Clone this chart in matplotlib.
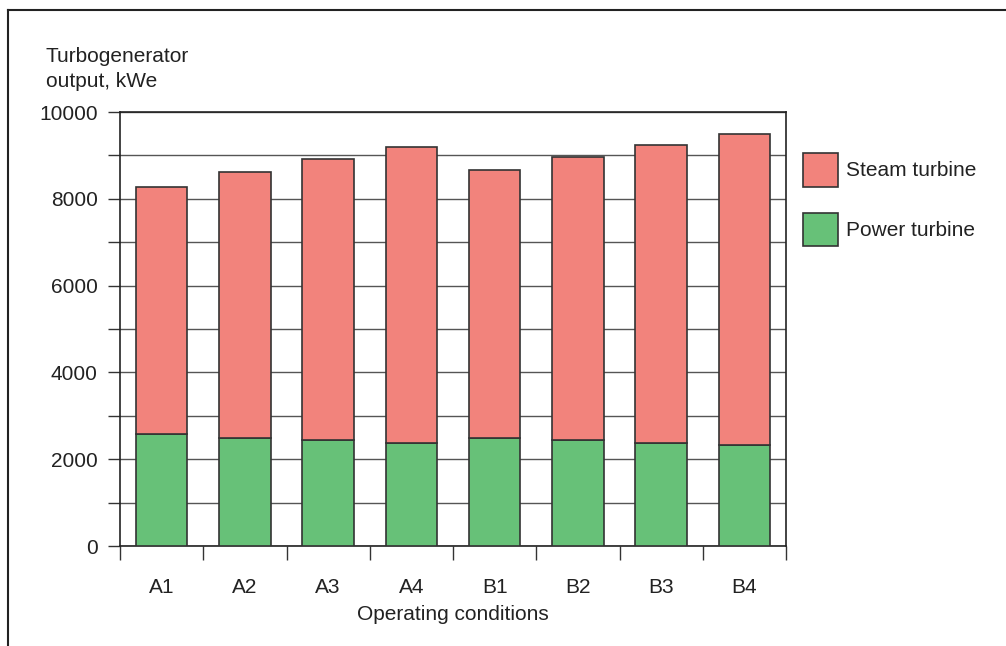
import matplotlib.pyplot as plt
from matplotlib.lines import Line2D
import numpy as np

plt.rcParams['font.family'] = ['Liberation Sans', 'DejaVu Sans']

conditions = ["A1", "A2", "A3", "A4", "B1", "B2", "B3", "B4"]
power_turbine = [2570, 2500, 2435, 2380, 2500, 2440, 2380, 2320]
total_output = [8265, 8610, 8925, 9200, 8665, 8955, 9245, 9495]
steam_turbine = [t - p for t, p in zip(total_output, power_turbine)]

red = "#F2837C"
green = "#67C178"
edge = "#333333"

fig = plt.figure(figsize=(10.06, 6.46), dpi=100)
ax = fig.add_axes([120 / 1006, 1 - 546 / 646, 666 / 1006, 434 / 646])

x = np.arange(len(conditions))
bw = 0.62
ax.bar(x, power_turbine, bw, color=green, edgecolor=edge, linewidth=1.2,
       label="Power turbine", zorder=3)
ax.bar(x, steam_turbine, bw, bottom=power_turbine, color=red, edgecolor=edge,
       linewidth=1.2, label="Steam turbine", zorder=3)

ax.set_xlim(-0.5, len(conditions) - 0.5)
ax.set_ylim(0, 10000)

ax.set_yticks(np.arange(0, 10001, 2000))
ax.set_yticks(np.arange(0, 10001, 1000), minor=True)
ax.yaxis.grid(True, which="both", color="#555555", linewidth=1.0, zorder=0)
ax.set_axisbelow(True)
ax.tick_params(axis="y", which="both", direction="out", length=9, width=1.0,
               color="#333333", labelsize=15, pad=7, labelcolor="#222222")

ax.set_xticks(np.arange(-0.5, len(conditions), 1.0))
ax.set_xticklabels([])
ax.set_xticks(x, minor=True)
ax.set_xticklabels(conditions, minor=True)
ax.tick_params(axis="x", which="major", direction="out", length=10, width=1.0,
               color="#333333")
ax.tick_params(axis="x", which="minor", length=0, labelsize=15, pad=23,
               labelcolor="#222222")

for s in ax.spines.values():
    s.set_color("#222222")
    s.set_linewidth(1.2)

ax.set_xlabel("Operating conditions", fontsize=15, color="#222222", labelpad=6)

fig.text(46 / 1006, 1 - 62 / 646, "Turbogenerator", fontsize=15,
         color="#222222", ha="left", va="baseline")
fig.text(46 / 1006, 1 - 87 / 646, "output, kWe", fontsize=15,
         color="#222222", ha="left", va="baseline")

handles, labels = ax.get_legend_handles_labels()
leg = ax.legend(handles[::-1], labels[::-1], loc="upper left",
                bbox_to_anchor=(803 / 1006, 1 - 153 / 646),
                bbox_transform=fig.transFigure, frameon=False, fontsize=15,
                handlelength=1.68, handleheight=2.1, handletextpad=0.4,
                labelspacing=1.25, borderpad=0, borderaxespad=0)
for t in leg.get_texts():
    t.set_color("#222222")

# outer frame (top and left edges only)
fig.add_artist(Line2D([8 / 1006, 1], [1 - 10 / 646, 1 - 10 / 646],
                      transform=fig.transFigure, color="#222222", linewidth=1.5))
fig.add_artist(Line2D([8 / 1006, 8 / 1006], [0, 1 - 10 / 646],
                      transform=fig.transFigure, color="#222222", linewidth=1.5))

fig.savefig("out.png", dpi=100)
